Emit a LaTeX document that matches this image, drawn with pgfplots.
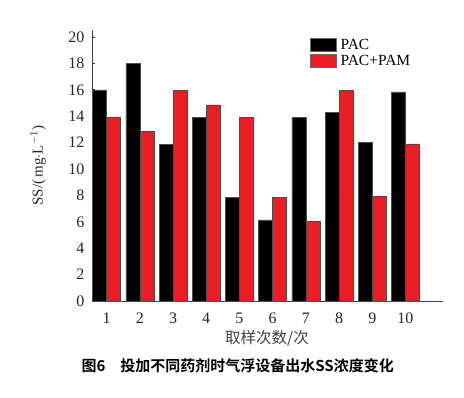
\documentclass[border=0pt]{standalone}
\usepackage{pgfplots}
\pgfplotsset{compat=1.18}
\usepackage{fontspec}
\setmainfont{Liberation Serif}
\newfontfamily\cjk{Noto Sans CJK SC}
\newfontfamily\cjkb{Noto Sans CJK SC Bold}
\definecolor{barred}{RGB}{234,30,36}
\begin{document}
\begin{tikzpicture}
\path[use as bounding box] (0,0) rectangle (464pt,397pt);
\begin{axis}[
  at={(92pt,96pt)}, anchor=south west,
  scale only axis, width=351pt, height=271pt,
  xmin=0.56, xmax=11.13, ymin=0, ymax=20.53,
  ybar=0pt, bar width=14pt,
  axis lines*=left,
  axis line style={line width=0.6pt, black!75},
  xtick={1,...,10}, xtick style={draw=none},
  ytick={0,2,...,20}, ytick style={black!75, line width=0.6pt}, tick align=inside, major tick length=3pt,
  tick label style={font=\fontsize{16}{16}\selectfont, text=black!85},
  /pgf/number format/assume math mode=true,
  yticklabel style={xshift=-4pt},
  xticklabel style={yshift=-8pt},
  ylabel={SS/(\,mg$\cdot$L$^{-1}$)},
  ylabel style={font=\fontsize{15}{15}\selectfont, text=black!85, at={(-54pt,0.5)}, anchor=center},
  xlabel={\cjk 取样次数/次},
  xlabel style={font=\fontsize{15.5}{15.5}\selectfont, text=black!75, at={(175pt,-37pt)}, anchor=center},
  legend style={at={(218pt,264pt)}, anchor=north west, draw=none, fill=none,
    font=\fontsize{15.5}{15.5}\selectfont, row sep=0pt, inner sep=0pt,
    nodes={inner xsep=4pt}},
  legend image code/.code={\draw[#1, draw=black!60] (0pt,-6.5pt) rectangle (26pt,6.5pt);},
  legend cell align=left,
]
\addplot[fill=black, draw=black!70] coordinates {(1,16) (2,18) (3,11.85) (4,13.9) (5,7.85) (6,6.15) (7,13.9) (8,14.3) (9,12.0) (10,15.85)};
\addplot[fill=barred, draw=black!70] coordinates {(1,13.95) (2,12.85) (3,15.95) (4,14.85) (5,13.9) (6,7.85) (7,6.05) (8,15.95) (9,7.95) (10,11.9)};
\legend{PAC, PAC+PAM}
\end{axis}
\node[anchor=west, font=\fontsize{15}{15}\selectfont\cjkb] at (78pt,31pt) {图6\hspace{1em}投加不同药剂时气浮设备出水SS浓度变化};
\end{tikzpicture}
\end{document}
